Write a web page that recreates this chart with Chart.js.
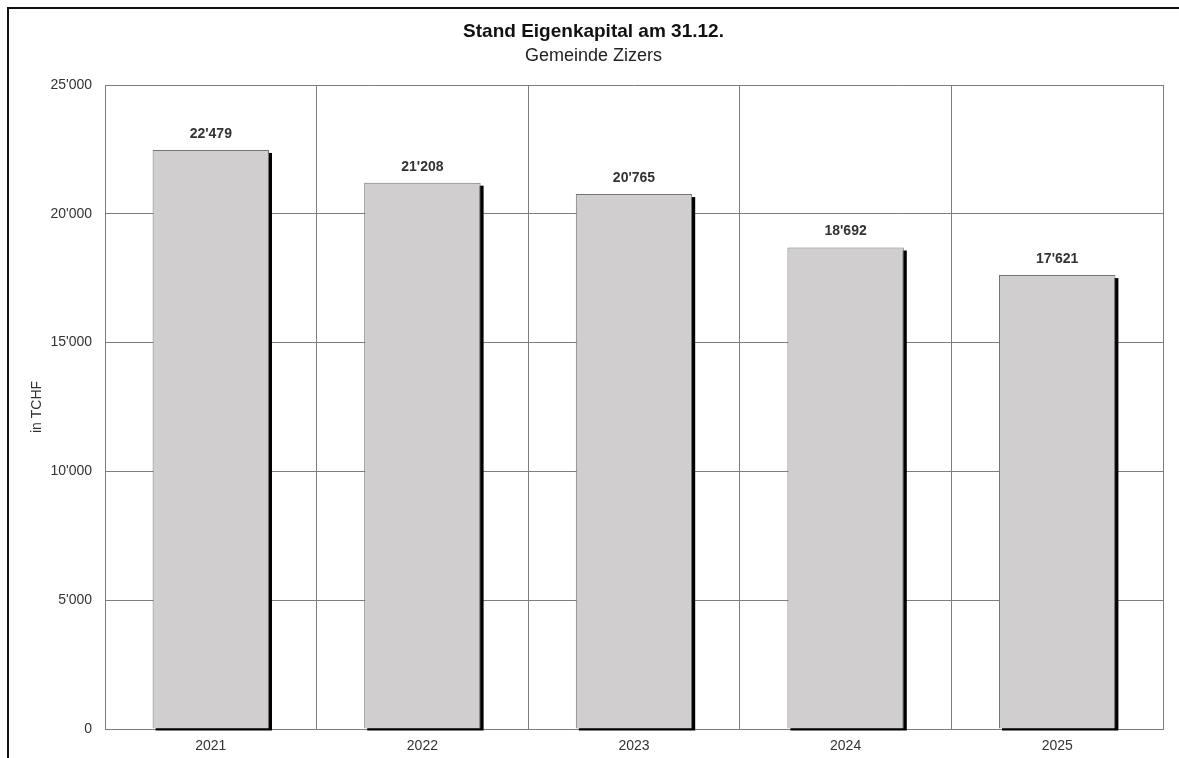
<!DOCTYPE html>
<html>
<head>
<meta charset="utf-8">
<title>Stand Eigenkapital am 31.12.</title>
<script src="https://cdn.jsdelivr.net/npm/chart.js@4/dist/chart.umd.min.js"></script>
<style>
  html, body { margin: 0; padding: 0; background: #fff; }
  #wrap { position: relative; width: 1179px; height: 758px; overflow: hidden; }
  /* outer frame of the original picture, cut off at right and bottom */
  #frame {
    position: absolute; left: 7px; top: 7px; width: 1200px; height: 800px;
    border-top: 2px solid #111; border-left: 2px solid #111;
  }
  #chart { position: absolute; left: 0; top: 0; }
</style>
</head>
<body>
<div id="wrap">
  <div id="frame"></div>
  <canvas id="chart" width="1179" height="758"></canvas>
</div>
<script>
// ── Data ──────────────────────────────────────────────────────────────────
const years  = ["2021", "2022", "2023", "2024", "2025"];
const equity = [22479, 21208, 20765, 18692, 17621];
const yTicks = [0, 5000, 10000, 15000, 20000, 25000];

const FONT = "'Liberation Sans', Arial, sans-serif";

// 22479 -> 22'479
function swiss(n) {
  return String(Math.round(n)).replace(/\B(?=(\d{3})+(?!\d))/g, "'");
}

// ── Plugins ───────────────────────────────────────────────────────────────

// black drop shadow behind each bar, placed from the bar elements
const barShadow = {
  id: "barShadow",
  beforeDatasetsDraw(chart) {
    const ctx = chart.ctx;
    const meta = chart.getDatasetMeta(0);
    ctx.save();
    ctx.fillStyle = "#000";
    meta.data.forEach(bar => {
      const w = bar.width;
      const left = bar.x - w / 2;
      ctx.fillRect(left + 3, bar.y + 3, w, bar.base - bar.y - 1);
    });
    ctx.restore();
  },
};

// value labels above the bars
const valueLabels = {
  id: "valueLabels",
  afterDatasetsDraw(chart) {
    const ctx = chart.ctx;
    const meta = chart.getDatasetMeta(0);
    const values = chart.data.datasets[0].data;
    ctx.save();
    ctx.font = "bold 14px " + FONT;
    ctx.fillStyle = "#333";
    ctx.textAlign = "center";
    ctx.textBaseline = "middle";
    meta.data.forEach((bar, i) => {
      ctx.fillText(swiss(values[i]), bar.x, bar.y - 16);
    });
    ctx.restore();
  },
};

// ── Chart ─────────────────────────────────────────────────────────────────

const GRID = "#7d7d7d";

new Chart(document.getElementById("chart"), {
  type: "bar",
  data: {
    labels: years,
    datasets: [{
      data: equity,
      backgroundColor: "#d0cecf",
      borderColor: "#737373",
      borderWidth: 1,
      categoryPercentage: 1,
      barPercentage: 0.55,
    }],
  },
  options: {
    responsive: false,
    animation: false,
    devicePixelRatio: 1,
    layout: { padding: { left: 24, right: 16, top: 10, bottom: 0 } },
    plugins: {
      legend: { display: false },
      tooltip: { enabled: false },
      title: {
        display: true,
        text: "Stand Eigenkapital am 31.12.",
        color: "#111",
        font: { family: FONT, size: 19, weight: "bold", lineHeight: 1.2 },
        padding: { top: 10, bottom: 2 },
      },
      subtitle: {
        display: true,
        text: "Gemeinde Zizers",
        color: "#222",
        font: { family: FONT, size: 18, lineHeight: 1.2 },
        padding: { top: 0, bottom: 18.6 },
      },
    },
    scales: {
      x: {
        grid: { color: GRID, lineWidth: 1, drawTicks: false, offset: true },
        border: { color: GRID, width: 1 },
        ticks: { color: "#333", font: { family: FONT, size: 14 }, padding: 9 },
        afterFit(scale) { scale.height = 29; },
      },
      y: {
        min: 0,
        max: 25000,
        afterBuildTicks(scale) { scale.ticks = yTicks.map(v => ({ value: v })); },
        grid: { color: GRID, lineWidth: 1, drawTicks: false },
        border: { color: GRID, width: 1 },
        ticks: {
          color: "#333",
          font: { family: FONT, size: 14 },
          padding: 13,
          callback: v => swiss(v),
        },
        title: {
          display: true,
          text: "in TCHF",
          color: "#333",
          font: { family: FONT, size: 14, lineHeight: 1.2 },
          padding: { top: 4.5, bottom: 0 },
        },
        afterFit(scale) { scale.width = 81; },
      },
    },
  },
  plugins: [barShadow, valueLabels],
});
</script>
</body>
</html>
